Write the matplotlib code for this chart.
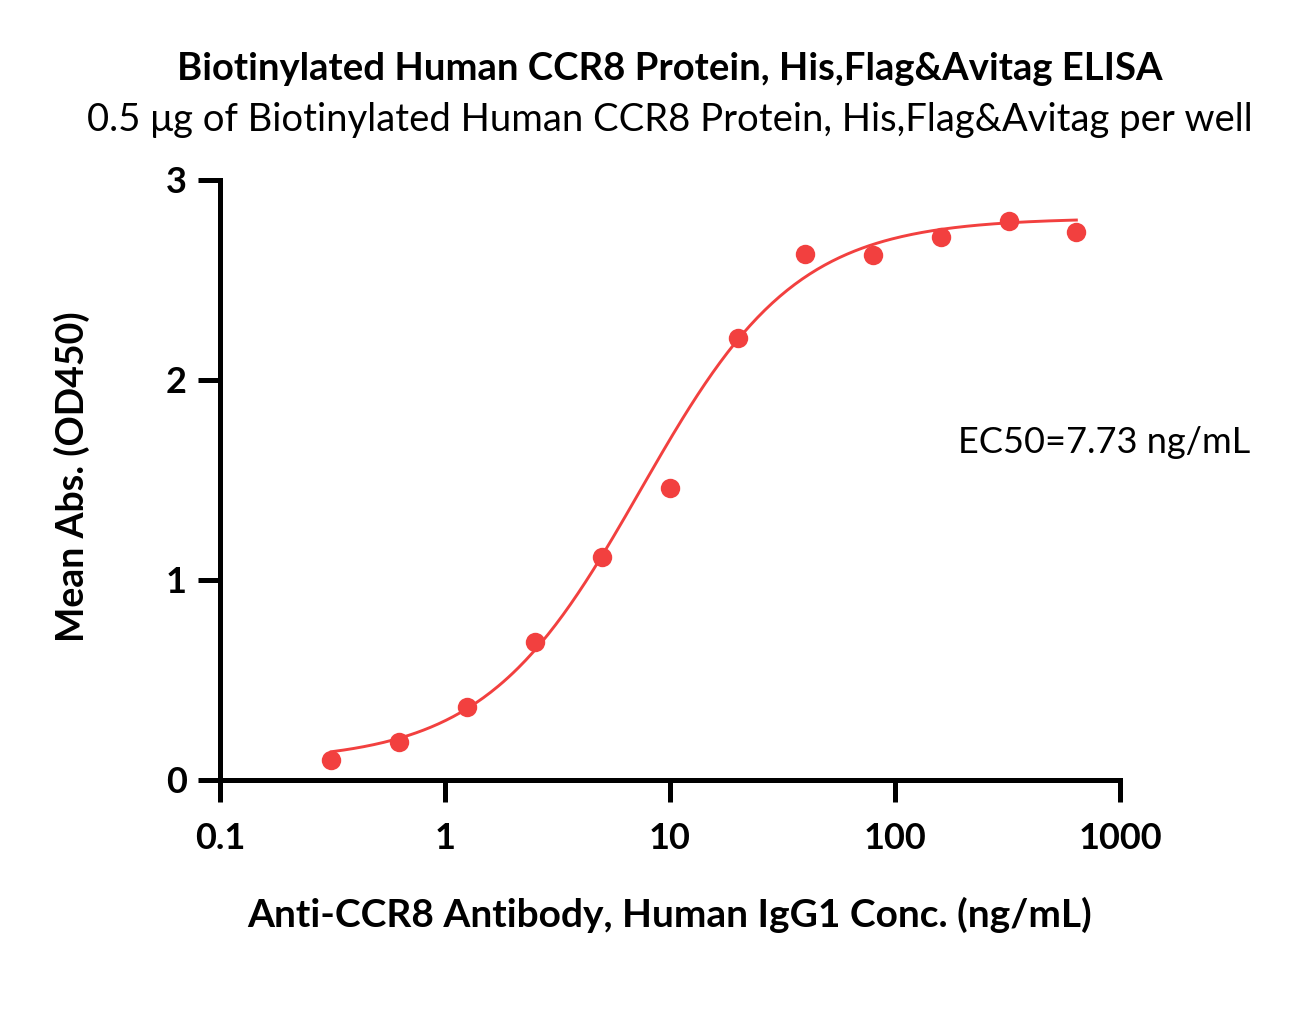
import numpy as np
import matplotlib
matplotlib.use('Agg')
import matplotlib.pyplot as plt

# Measured data (2-fold dilution series)
conc = [0.3125, 0.625, 1.25, 2.5, 5, 10, 20, 40, 80, 160, 320, 640]
od450 = [0.10, 0.19, 0.365, 0.69, 1.115, 1.46, 2.21, 2.63, 2.625, 2.715, 2.795, 2.74]

# 4PL fit parameters
fit_bottom = 0.09
fit_top = 2.81
fit_mid = 7.4
fit_hill = 1.25

plt.rcParams['font.family'] = ['Lato', 'DejaVu Sans']
red = '#F2403F'

fig = plt.figure(figsize=(12.97, 10.35), dpi=100)
ax = fig.add_axes([0.1696, 0.2464, 0.8635 - 0.1696, 0.8261 - 0.2464])

xs = np.logspace(np.log10(conc[0]), np.log10(conc[-1]), 300)
ys = fit_bottom + (fit_top - fit_bottom) / (1 + (fit_mid / xs) ** fit_hill)
ax.plot(xs, ys, color=red, lw=2.1, zorder=2)
ax.plot(conc, od450, 'o', color=red, ms=14, mec='none', zorder=3)

ax.set_xscale('log')
ax.set_xlim(0.1, 1000)
ax.set_ylim(0, 3)
ax.set_xticks([0.1, 1, 10, 100, 1000])
ax.set_xticklabels(['0.1', '1', '10', '100', '1000'])
ax.xaxis.set_minor_locator(matplotlib.ticker.NullLocator())
ax.set_yticks([0, 1, 2, 3])
ax.set_yticklabels(['0', '1', '2', '3'])

for s in ['top', 'right']:
    ax.spines[s].set_visible(False)
for s in ['left', 'bottom']:
    ax.spines[s].set_linewidth(3.6)
ax.tick_params(width=3.6, length=16, labelsize=26)
ax.tick_params(axis='x', pad=14)
ax.tick_params(axis='y', pad=8)
for lab in ax.get_xticklabels() + ax.get_yticklabels():
    lab.set_fontweight('bold')

ax.set_xlabel('Anti-CCR8 Antibody, Human IgG1 Conc. (ng/mL)', fontsize=28, fontweight='bold')
ax.xaxis.set_label_coords(0.5, -0.195)
ax.set_ylabel('Mean Abs. (OD450)', fontsize=27, fontweight='bold')
ax.yaxis.set_label_coords(-0.144, 0.505)

fig.text(0.5166, 0.933, 'Biotinylated Human CCR8 Protein, His,Flag&Avitag ELISA',
         ha='center', va='center', fontsize=27.5, fontweight='bold')
fig.text(0.5166, 0.884, '0.5 μg of Biotinylated Human CCR8 Protein, His,Flag&Avitag per well',
         ha='center', va='center', fontsize=27.5)
ax.text(0.82, 0.562, 'EC50=7.73 ng/mL', transform=ax.transAxes, ha='left', va='center', fontsize=26)

fig.savefig('out.png', dpi=100)
